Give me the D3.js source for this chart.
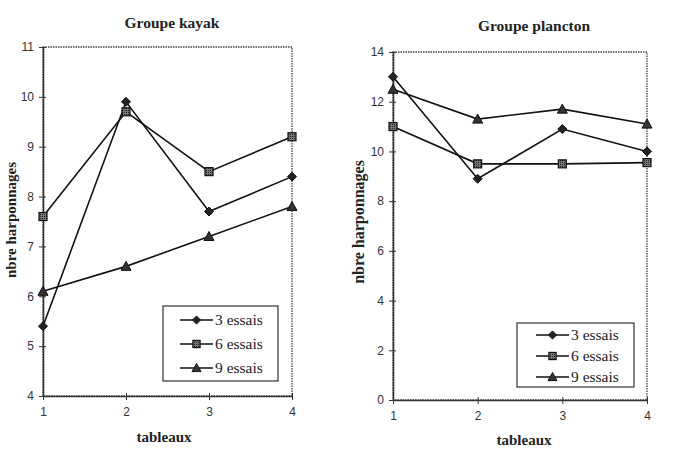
<!DOCTYPE html>
<html><head><meta charset="utf-8">
<script src="https://cdn.jsdelivr.net/npm/d3@7"></script>
<style>body{margin:0;background:#fff}</style>
</head><body>
<svg id="c" width="688" height="456"></svg>
<script>
const tableaux = [1, 2, 3, 4];
const seriesNames = ["3 essais", "6 essais", "9 essais"];
const markers = ["diamond", "square", "triangle"];
const kayak3 = [5.4, 9.9, 7.7, 8.4];
const kayak6 = [7.6, 9.7, 8.5, 9.2];
const kayak9 = [6.1, 6.6, 7.2, 7.8];
const plancton3 = [13, 8.9, 10.9, 10.0];
const plancton6 = [11, 9.5, 9.5, 9.55];
const plancton9 = [12.5, 11.3, 11.7, 11.1];
const kayakTicks = [4, 5, 6, 7, 8, 9, 10, 11];
const planctonTicks = [0, 2, 4, 6, 8, 10, 12, 14];

const svg = d3.select("#c");
const defs = svg.append("defs");
const pat = defs.append("pattern").attr("id","hatch").attr("width",2).attr("height",2).attr("patternUnits","userSpaceOnUse");
pat.append("rect").attr("width",2).attr("height",2).attr("fill","#777");
pat.append("rect").attr("width",1).attr("height",1).attr("fill","#222");

const serif = "'Liberation Serif', 'Times New Roman', serif";
const sans = "'Liberation Sans', Arial, sans-serif";

function marker(g, type, x, y, s) {
  s = s || 1;
  if (type === "diamond") {
    g.append("path").attr("d", `M${x},${y-4.5*s}L${x+4.5*s},${y}L${x},${y+4.5*s}L${x-4.5*s},${y}Z`)
      .attr("fill","#222").attr("stroke","#111").attr("stroke-width",1);
  } else if (type === "square") {
    g.append("rect").attr("x",x-4*s).attr("y",y-4*s).attr("width",8*s).attr("height",8*s)
      .attr("fill","url(#hatch)").attr("stroke","#111").attr("stroke-width",1.2);
  } else {
    g.append("path").attr("d", `M${x},${y-5*s}L${x+5*s},${y+4*s}L${x-5*s},${y+4*s}Z`)
      .attr("fill","#333").attr("stroke","#111").attr("stroke-width",1);
  }
}

function chart(o) {
  const g = svg.append("g");
  const x = d3.scaleLinear().domain([1,4]).range([o.left, o.right]);
  const y = d3.scaleLinear().domain(o.ydom).range([o.bottom, o.top]);
  g.append("rect").attr("x",o.left).attr("y",o.top).attr("width",o.right-o.left).attr("height",o.bottom-o.top)
    .attr("fill","none").attr("stroke","#444").attr("stroke-width",1.3).attr("stroke-dasharray","1.5,1");
  const ya = d3.axisLeft(y).tickValues(o.ticks).tickSize(4).tickSizeOuter(0).tickFormat(d3.format("d"));
  const yg = g.append("g").attr("transform",`translate(${o.left},0)`).call(ya);
  yg.selectAll(".tick line").attr("x1",3).attr("x2",-4);
  const xa = d3.axisBottom(x).tickValues(tableaux).tickSize(4).tickSizeOuter(0).tickFormat(d3.format("d"));
  const xg = g.append("g").attr("transform",`translate(0,${o.bottom})`).call(xa);
  xg.selectAll(".tick line").attr("y1",-3).attr("y2",4);
  [yg, xg].forEach(a => {
    a.attr("font-family", sans).attr("font-size", 12);
    a.select(".domain").attr("stroke","#333").attr("stroke-width",1.6);
    a.selectAll(".tick line").attr("stroke","#333").attr("stroke-width",1);
    a.selectAll("text").attr("fill","#333");
  });
  yg.selectAll("text").attr("x",-9);
  xg.selectAll("text").attr("y",11);
  const line = d3.line().x((d,i)=>x(tableaux[i])).y(d=>y(d));
  o.series.forEach(s => {
    g.append("path").datum(s).attr("d",line).attr("fill","none").attr("stroke","#111").attr("stroke-width",1.6);
  });
  o.series.forEach((s, si) => {
    s.forEach((v,i) => marker(g, markers[si], x(tableaux[i]), y(v)));
  });
  g.append("text").attr("x",o.titleX).attr("y",o.titleY).attr("text-anchor","middle")
    .style("font-family",serif).attr("font-weight","bold").attr("font-size",15.5).attr("fill","#222").text(o.title);
  g.append("text").attr("x",o.xlabX).attr("y",o.xlabY).attr("text-anchor","middle")
    .style("font-family",serif).attr("font-weight","bold").attr("font-size",15).attr("fill","#222").text("tableaux");
  g.append("text").attr("transform",`translate(${o.ylabX},${o.ylabY}) rotate(-90)`).attr("text-anchor","middle")
    .style("font-family",serif).attr("font-weight","bold").attr("font-size",o.ylabSize).attr("fill","#222").text("nbre harponnages");
  const L = o.legend;
  g.append("rect").attr("x",L.x).attr("y",L.y).attr("width",L.w).attr("height",L.h)
    .attr("fill","#fff").attr("stroke","#333").attr("stroke-width",1.2);
  seriesNames.forEach((n, i) => {
    const ly = L.y + L.first + i*L.step;
    g.append("line").attr("x1",L.x+L.lx1).attr("x2",L.x+L.lx2).attr("y1",ly).attr("y2",ly).attr("stroke","#111").attr("stroke-width",1.6);
    marker(g, markers[i], L.x+(L.lx1+L.lx2)/2, ly, 0.9);
    g.append("text").attr("x",L.x+L.lx2+2).attr("y",ly+5).style("font-family",serif).attr("font-size",15.5).attr("fill","#222").text(n);
  });
}

chart({left:43, right:292, top:47, bottom:396, ydom:[4,11], ticks:kayakTicks,
  series:[kayak3,kayak6,kayak9], title:"Groupe kayak", titleX:172, titleY:28,
  xlabX:164, xlabY:442, ylabX:16, ylabY:220, ylabSize:15,
  legend:{x:163, y:306, w:115, h:75, first:14, step:24, lx1:17, lx2:50}});
chart({left:393, right:647, top:52, bottom:400, ydom:[0,14], ticks:planctonTicks,
  series:[plancton3,plancton6,plancton9], title:"Groupe plancton", titleX:534, titleY:31,
  xlabX:524, xlabY:445, ylabX:364, ylabY:222, ylabSize:16,
  legend:{x:517, y:323, w:117, h:64, first:12, step:21, lx1:19, lx2:52}});
</script>
</body></html>
